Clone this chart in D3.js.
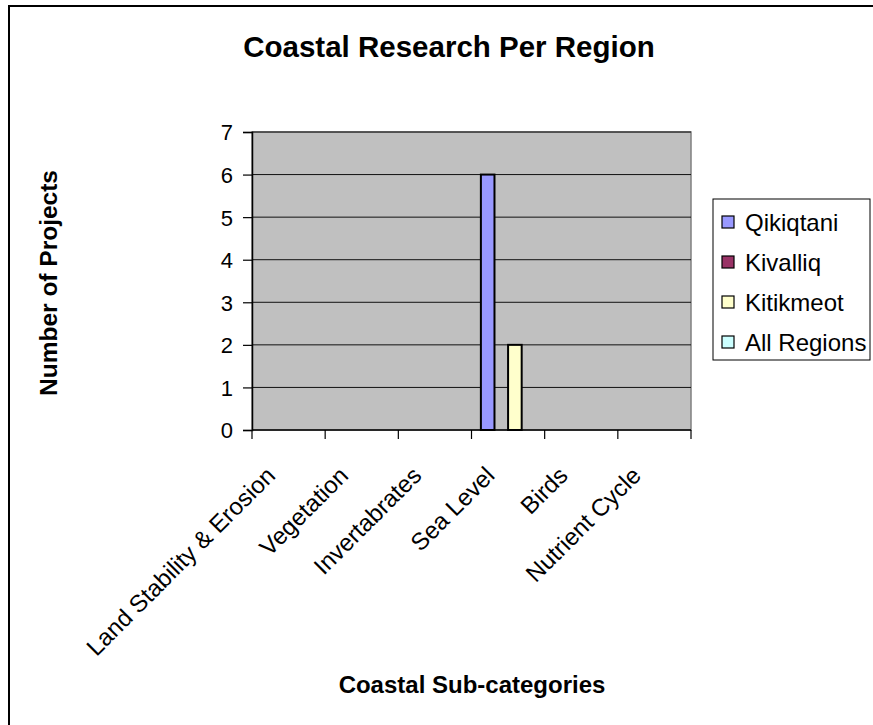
<!DOCTYPE html>
<html>
<head>
<meta charset="utf-8">
<script src="https://cdn.jsdelivr.net/npm/d3@7"></script>
<style>
  html, body { margin: 0; padding: 0; background: #fff; }
  svg { display: block; font-family: "Liberation Sans", Arial, sans-serif; }
</style>
</head>
<body>
<svg id="chart" width="873" height="725"></svg>
<script>
// Coastal research projects by sub-category and region
const categories = ["Land Stability & Erosion", "Vegetation", "Invertabrates", "Sea Level", "Birds", "Nutrient Cycle"];
const seriesNames = ["Qikiqtani", "Kivalliq", "Kitikmeot", "All Regions"];
const qikiqtani  = [0, 0, 0, 6, 0, 0];
const kivalliq   = [0, 0, 0, 0, 0, 0];
const kitikmeot  = [0, 0, 0, 2, 0, 0];
const allRegions = [0, 0, 0, 0, 0, 0];
const yTicks = [0, 1, 2, 3, 4, 5, 6, 7];
const colors = ["#9999FF", "#993366", "#FFFFCC", "#CCFFFF"];

const seriesValues = [qikiqtani, kivalliq, kitikmeot, allRegions];

const svg = d3.select("#chart");

// chart frame (runs off the right and bottom edges)
svg.append("rect")
  .attr("x", 9).attr("y", 6)
  .attr("width", 900).attr("height", 800)
  .attr("fill", "#fff").attr("stroke", "#000").attr("stroke-width", 2);

const plot = { left: 252, right: 691, top: 132, bottom: 430 };

const x = d3.scaleBand().domain(categories).range([plot.left, plot.right]);
const xs = d3.scaleBand().domain(seriesNames).range([0, x.bandwidth()]).paddingOuter(0.69);
const y = d3.scaleLinear().domain([0, 7]).range([plot.bottom, plot.top]);
const color = d3.scaleOrdinal().domain(seriesNames).range(colors);

// plot area
svg.append("rect")
  .attr("x", plot.left).attr("y", plot.top)
  .attr("width", plot.right - plot.left).attr("height", plot.bottom - plot.top)
  .attr("fill", "#C0C0C0").attr("stroke", "#808080").attr("stroke-width", 1.5);

// gridlines
svg.append("g")
  .selectAll("line")
  .data(yTicks.filter(t => t > 0))
  .join("line")
  .attr("x1", plot.left).attr("x2", plot.right)
  .attr("y1", d => y(d)).attr("y2", d => y(d))
  .attr("stroke", "#111").attr("stroke-width", 1);

// bars
const barData = [];
seriesNames.forEach((s, si) => {
  categories.forEach((c, ci) => {
    barData.push({ series: s, category: c, value: seriesValues[si][ci] });
  });
});

svg.append("g")
  .selectAll("rect")
  .data(barData.filter(d => d.value > 0))
  .join("rect")
  .attr("x", d => x(d.category) + xs(d.series))
  .attr("y", d => y(d.value))
  .attr("width", xs.bandwidth())
  .attr("height", d => y(0) - y(d.value))
  .attr("fill", d => color(d.series))
  .attr("stroke", "#000").attr("stroke-width", 2);

// y axis
const yAxis = d3.axisLeft(y).tickValues(yTicks).tickSize(9).tickPadding(10).tickFormat(d3.format("d"));
const gy = svg.append("g").attr("transform", `translate(${plot.left},0)`).call(yAxis);
gy.select(".domain").attr("stroke", "#000").attr("stroke-width", 1.5);
gy.selectAll(".tick line").attr("stroke", "#000").attr("stroke-width", 1.2);
gy.selectAll(".tick text")
  .attr("font-family", "'Liberation Sans', Arial, sans-serif")
  .attr("font-size", 22).attr("fill", "#000").attr("dy", "0.36em");

// x axis with ticks at category boundaries
const gx = svg.append("g").attr("transform", `translate(0,${plot.bottom})`);
gx.append("line")
  .attr("x1", plot.left).attr("x2", plot.right)
  .attr("stroke", "#000").attr("stroke-width", 1.5);
const boundaries = categories.map(c => x(c)).concat([plot.right]);
gx.selectAll("line.tick")
  .data(boundaries)
  .join("line")
  .attr("class", "tick")
  .attr("x1", d => d).attr("x2", d => d)
  .attr("y1", 0).attr("y2", 9)
  .attr("stroke", "#000").attr("stroke-width", 1.2);

gx.selectAll("text.cat")
  .data(categories)
  .join("text")
  .attr("class", "cat")
  .attr("transform", d => `translate(${x(d) + x.bandwidth() / 2 - 12},47) rotate(-45)`)
  .attr("text-anchor", "end")
  .attr("font-size", 24)
  .attr("fill", "#000")
  .text(d => d);

// titles
svg.append("text")
  .attr("x", 449).attr("y", 57)
  .attr("text-anchor", "middle")
  .attr("font-size", 29.5).attr("font-weight", "bold")
  .text("Coastal Research Per Region");

svg.append("text")
  .attr("x", 472).attr("y", 693)
  .attr("text-anchor", "middle")
  .attr("font-size", 24).attr("font-weight", "bold")
  .text("Coastal Sub-categories");

svg.append("text")
  .attr("transform", "translate(57,283) rotate(-90)")
  .attr("text-anchor", "middle")
  .attr("font-size", 24.5).attr("font-weight", "bold")
  .text("Number of Projects");

// legend
const legend = svg.append("g");
legend.append("rect")
  .attr("x", 713).attr("y", 199)
  .attr("width", 157).attr("height", 161)
  .attr("fill", "#fff").attr("stroke", "#000").attr("stroke-width", 1);

const ly = d3.scalePoint().domain(seriesNames).range([222, 342]);
const items = legend.selectAll("g.item")
  .data(seriesNames)
  .join("g")
  .attr("class", "item")
  .attr("transform", d => `translate(722,${ly(d)})`);
items.append("rect")
  .attr("x", 0).attr("y", -6)
  .attr("width", 12).attr("height", 12)
  .attr("fill", d => color(d))
  .attr("stroke", "#000").attr("stroke-width", 1.2);
items.append("text")
  .attr("x", 23).attr("y", 0).attr("dy", "0.36em")
  .attr("font-size", 24).attr("fill", "#000")
  .text(d => d);
</script>
</body>
</html>
